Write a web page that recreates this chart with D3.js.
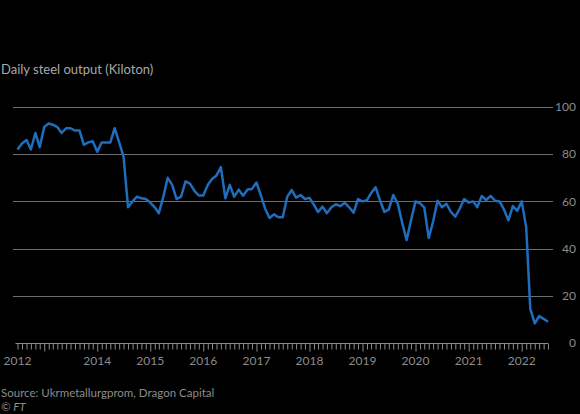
<!DOCTYPE html>
<html>
<head>
<meta charset="utf-8">
<script src="https://cdn.jsdelivr.net/npm/d3@7"></script>
<style>
html,body{margin:0;padding:0;background:#000;}
svg{display:block;background:#000;}
text{font-family:Lato,"Open Sans",sans-serif;}
</style>
</head>
<body>
<svg id="chart" width="580" height="414"></svg>
<script>
const startMonth = "2012-07";
const values = [
 82, 84.5, 86, 82, 89, 83, 91.5, 93, 92.5, 91.5,
 89, 91, 91, 90, 90, 84, 85, 85.5, 81, 85,
 85, 85, 91, 85, 79, 57.5, 60, 62, 61.3, 61,
 59.5, 57.5, 55, 62, 70, 67, 61, 62, 68.5, 67.5,
 64.5, 62.5, 62.5, 67, 69.5, 71, 74.5, 61.3, 67, 62,
 65, 62.4, 65, 65.3, 68, 62.5, 57, 53, 54.5, 53.3,
 53.3, 62, 64.8, 61.6, 62.7, 61, 61.5, 58.5, 55.5, 57.8,
 55, 57.5, 58.8, 58, 59.4, 57.5, 55.2, 61, 60, 60.5,
 63.5, 66, 60.5, 55.5, 56.6, 62.7, 59, 51, 43.6, 52,
 60, 59.2, 57.5, 44.5, 51.5, 60.3, 57.5, 59, 55.5, 53.5,
 57, 61, 59.5, 60, 57.5, 62.3, 60.6, 62.3, 60.3, 60,
 56.6, 52, 58, 56, 60, 49, 14.5, 8.3, 11.4, 10.2,
 9
];
const yTicks = [0, 20, 40, 60, 80, 100];
const yearLabels = [["2012","2012-07"],["2014","2014-01"],["2015","2015-01"],["2016","2016-01"],["2017","2017-01"],["2018","2018-01"],["2019","2019-01"],["2020","2020-01"],["2021","2021-01"],["2022","2022-01"]];
const title = "Daily steel output (Kiloton)";
const source = "Source: Ukrmetallurgprom, Dragon Capital";
const credit = "© FT";

const parse = d3.timeParse("%Y-%m");
const t0 = parse(startMonth);
const data = values.map((v, i) => ({date: d3.timeMonth.offset(t0, i), value: v}));
const tEnd = data[data.length - 1].date;

const svg = d3.select("#chart");
const x = d3.scaleTime().domain([t0, tEnd]).range([17.5, 548]);
const y = d3.scaleLinear().domain([0, 100]).range([343, 107]);

svg.append("text").attr("x", 1).attr("y", 74).attr("fill", "#a8a8a8")
  .attr("font-size", 13).text(title);

// gridlines
svg.append("g").selectAll("line").data(yTicks.filter(d => d > 0)).join("line")
  .attr("x1", 13).attr("x2", 553)
  .attr("y1", d => Math.round(y(d)) + 0.5).attr("y2", d => Math.round(y(d)) + 0.5)
  .attr("stroke", "#6e6e6e").attr("stroke-width", 1);

// y labels right side
svg.append("g").selectAll("text").data(yTicks).join("text")
  .attr("x", 576).attr("y", d => y(d)).attr("dy", "0.35em")
  .attr("text-anchor", "end").attr("fill", "#8c8c8c").attr("font-size", 12)
  .text(d => d);

// x axis with monthly ticks
const months = d3.timeMonth.range(d3.timeMonth.offset(t0, 0), d3.timeMonth.offset(tEnd, 1));
const xAxis = d3.axisBottom(x).tickValues(months).tickFormat("").tickSizeOuter(0)
  .tickSize(6);
const gx = svg.append("g").attr("transform", "translate(0,343.5)").call(xAxis);
gx.select(".domain").attr("stroke", "#8c8c8c").attr("d", `M${x(t0)-2},0H${x(tEnd)}`);
gx.selectAll(".tick line").attr("stroke", "#8c8c8c")
  .attr("y2", d => d.getMonth() === 0 ? 8 : 6);

svg.append("g").selectAll("text").data(yearLabels).join("text")
  .attr("x", d => x(parse(d[1]))).attr("y", 365)
  .attr("text-anchor", "middle").attr("fill", "#8c8c8c").attr("font-size", 12)
  .text(d => d[0]);

// line
const line = d3.line().x(d => x(d.date)).y(d => y(d.value));
svg.append("path").datum(data).attr("d", line).attr("fill", "none")
  .attr("stroke", "#1f6dbd").attr("stroke-width", 2.5).attr("stroke-linejoin", "round");

svg.append("text").attr("x", 1).attr("y", 397).attr("fill", "#8c8c8c")
  .attr("font-size", 11.5).text(source);
svg.append("text").attr("x", 1).attr("y", 411).attr("fill", "#8c8c8c")
  .attr("font-size", 11.5).attr("font-style", "italic").text(credit);
</script>
</body>
</html>
